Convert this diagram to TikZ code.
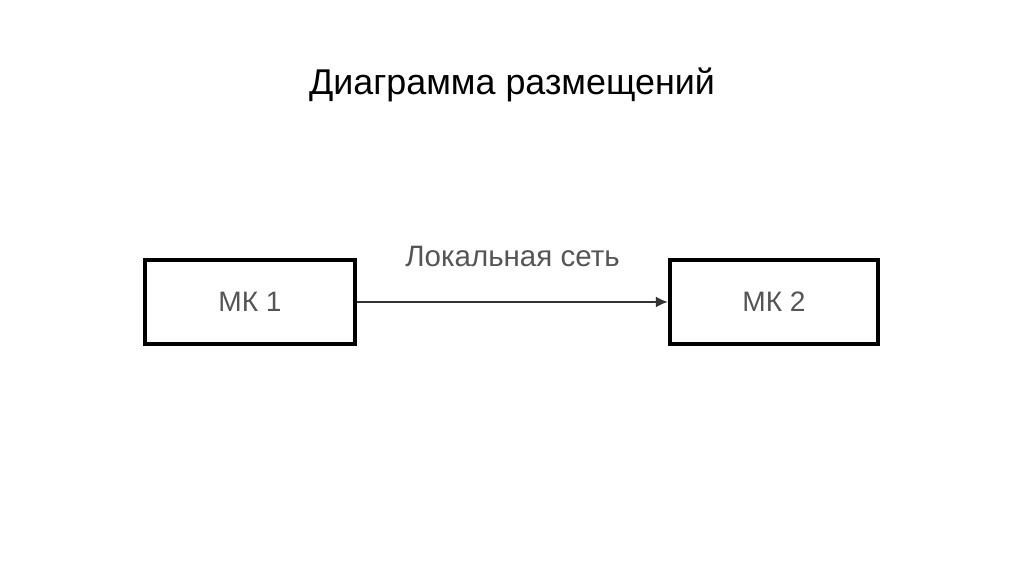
\documentclass[tikz,border=0pt]{standalone}
\usepackage{fontspec}
\setmainfont{Liberation Sans}
\usepackage{xcolor}
\usetikzlibrary{arrows.meta,positioning}
\definecolor{dpInk}{HTML}{000000}
\definecolor{dpText}{HTML}{555555}
\definecolor{dpLine}{HTML}{333333}
\tikzset{
  dp diagram/.style={line cap=butt, line join=miter},
  dp box/.style={draw=dpInk, fill=white, line width=1.15pt,
    minimum height=0.84cm, inner sep=2pt, align=center,
    font=\fontsize{8}{10}\selectfont, text=dpText},
  dp arrow/.style={-{Latex[length=1.2mm,width=1.1mm]}, draw=dpLine, line width=0.75pt},
  dp label/.style={font=\fontsize{8.4}{10}\selectfont, text=dpText},
  dp title/.style={font=\fontsize{10.2}{12}\selectfont, text=dpInk}
}
\begin{document}
\begin{tikzpicture}[dp diagram]
\useasboundingbox (0,0) rectangle (10.24,5.74);
\node[dp title] (title) at (5.12,4.89) {Диаграмма размещений};
\node[dp box, minimum width=2.10cm] (mk1) at (2.50,2.72) {МК 1};
\node[dp box, minimum width=2.08cm] (mk2) at (7.74,2.72) {МК 2};
\draw[dp arrow] (mk1.east) -- (mk2.west)
  node[midway, above=0.22cm, dp label] (net) {Локальная сеть};
\end{tikzpicture}
\end{document}
